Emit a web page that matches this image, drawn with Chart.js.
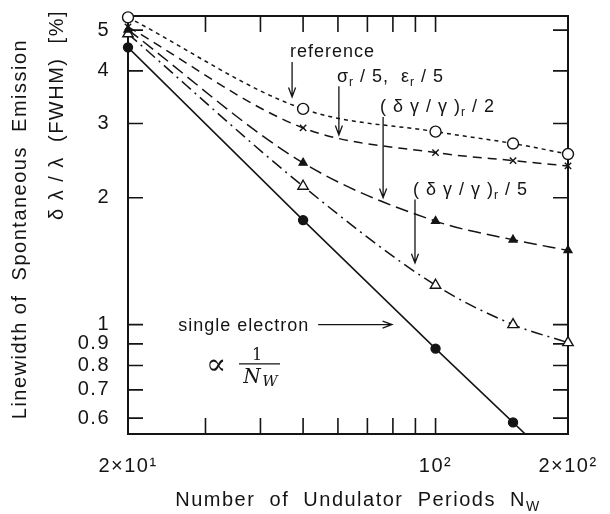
<!DOCTYPE html>
<html><head><meta charset="utf-8">
<script src="https://cdn.jsdelivr.net/npm/chart.js@4.4.0/dist/chart.umd.min.js"></script>
<style>html,body{margin:0;padding:0;background:#fff}#wrap{width:610px;height:514px}</style>
</head><body><div id="wrap"><canvas id="c" width="610" height="514"></canvas></div>
<script>
// ---- data ----
const periods = [20, 50, 100, 150, 200];
const referenceWidth = [5.36, 3.25, 2.87, 2.69, 2.54];
const emittanceOver5 = [5.09, 2.93, 2.56, 2.45, 2.38];
const spreadOver2 = [5.01, 2.42, 1.76, 1.59, 1.50];
const spreadOver5 = [4.90, 2.13, 1.24, 1.00, 0.906];
const singleElectron = [4.55, 1.77, 0.877, 0.586, 0.44];

const yTickValues = [0.6, 0.7, 0.8, 0.9, 1, 2, 3, 4, 5];
const yTickLabels = ['0.6', '0.7', '0.8', '0.9', '1', '2', '3', '4', '5'];
const xTickValues = [20, 100, 200];
const xTickLabels = ['2×10¹', '10²', '2×10²'];
const xMinorTicks = [30, 40, 50, 60, 70, 80, 90, 100];

const FONT = "'Liberation Sans', Arial, sans-serif";
const INK = '#141414';

// annotation anchors in data coordinates [N, value]
const notes = [
  { runs: [['reference']], at: [46.7, 4.32], arrow: [[47.2, 4.20], [47.2, 3.47]] },
  { runs: [['σ'], ['r', 1], [' / 5,  ε'], ['r', 1], [' / 5']], at: [59.7, 3.77], arrow: [[60.3, 3.68], [60.3, 2.82]] },
  { runs: [['( δ γ / γ )'], ['r', 1], [' / 2']], at: [74.8, 3.20], arrow: [[76.0, 3.11], [76.0, 2.00]] },
  { runs: [['( δ γ / γ )'], ['r', 1], [' / 5']], at: [88.9, 2.03], arrow: [[89.8, 1.98], [89.8, 1.40]] },
  { runs: [['single electron']], at: [26.0, 0.966], arrow: [[54.1, 1.0], [79.6, 1.0]] }
];

function pts(arr) { return periods.map((n, i) => ({ x: n, y: arr[i] })); }

function drawRuns(ctx, x, y, runs, size) {
  let cx = x;
  runs.forEach(([t, sub]) => {
    ctx.font = (sub ? Math.round(size * 0.65) : size) + 'px ' + FONT;
    ctx.fillText(t, cx, sub ? y + 4 : y);
    cx += ctx.measureText(t).width;
  });
}

function arrow(ctx, x1, y1, x2, y2) {
  ctx.beginPath();
  ctx.moveTo(x1, y1); ctx.lineTo(x2, y2);
  const a = Math.atan2(y2 - y1, x2 - x1), L = 10, w = 0.36;
  ctx.moveTo(x2 - L * Math.cos(a - w), y2 - L * Math.sin(a - w));
  ctx.lineTo(x2, y2);
  ctx.lineTo(x2 - L * Math.cos(a + w), y2 - L * Math.sin(a + w));
  ctx.stroke();
}

const framePlugin = {
  id: 'frame',
  beforeDraw(chart) {
    chart.ctx.letterSpacing = '1.5px';
  },
  beforeDatasetsDraw(chart) {
    const { ctx, chartArea: a, scales: { x, y } } = chart;
    ctx.save();
    ctx.strokeStyle = INK;
    ctx.lineWidth = 2;
    ctx.strokeRect(a.left, a.top, a.right - a.left, a.bottom - a.top);
    ctx.lineWidth = 1.6;
    ctx.beginPath();
    yTickValues.forEach(v => {
      const py = y.getPixelForValue(v);
      ctx.moveTo(a.left, py); ctx.lineTo(a.left + 15, py);
      ctx.moveTo(a.right, py); ctx.lineTo(a.right - 15, py);
    });
    xMinorTicks.forEach(n => {
      const px = x.getPixelForValue(n);
      ctx.moveTo(px, a.top); ctx.lineTo(px, a.top + 16);
      ctx.moveTo(px, a.bottom); ctx.lineTo(px, a.bottom - 16);
    });
    ctx.stroke();
    ctx.restore();
  },
  afterDraw(chart) {
    const { ctx, chartArea: a, scales: { x, y } } = chart;
    const P = (n, v) => [x.getPixelForValue(n), y.getPixelForValue(v)];
    ctx.save();
    ctx.fillStyle = INK; ctx.strokeStyle = INK; ctx.lineWidth = 1.3;
    ctx.textBaseline = 'alphabetic'; ctx.textAlign = 'left';
    ctx.letterSpacing = '1px';
    notes.forEach(nt => {
      const [tx, ty] = P(nt.at[0], nt.at[1]);
      drawRuns(ctx, tx, ty, nt.runs, 18);
      const [ax1, ay1] = P(nt.arrow[0][0], nt.arrow[0][1]);
      const [ax2, ay2] = P(nt.arrow[1][0], nt.arrow[1][1]);
      arrow(ctx, ax1, ay1, ax2, ay2);
    });
    // proportional-to annotation
    ctx.letterSpacing = '0px';
    const [px0, py0] = P(30.7, 0.785);
    ctx.font = "30px 'DejaVu Serif', serif";
    ctx.fillText('∝', px0 - 4, py0 + 5);
    const [fx, fy] = P(39.7, 0.807);
    ctx.beginPath(); ctx.moveTo(fx - 20, fy); ctx.lineTo(fx + 21, fy); ctx.lineWidth = 1.2; ctx.stroke();
    ctx.textAlign = 'center';
    ctx.font = "16px 'DejaVu Serif', serif";
    ctx.fillText('1', fx - 2, fy - 4);
    ctx.font = "italic 20px 'DejaVu Serif', serif";
    ctx.fillText('N', fx - 7, fy + 19);
    ctx.font = "italic 15px 'DejaVu Serif', serif";
    ctx.fillText('W', fx + 11, fy + 22);

    // y axis title (two lines)
    ctx.letterSpacing = '1.5px';
    ctx.save();
    ctx.translate(20, 229); ctx.rotate(-Math.PI / 2);
    ctx.textAlign = 'center'; ctx.textBaseline = 'middle';
    ctx.font = '20px ' + FONT;
    ctx.fillText('Linewidth of  Spontaneous  Emission', 0, 0);
    ctx.restore();
    ctx.save();
    ctx.translate(57, 115); ctx.rotate(-Math.PI / 2);
    ctx.textAlign = 'center'; ctx.textBaseline = 'middle';
    ctx.font = '20px ' + FONT;
    ctx.fillText('δ λ / λ  (FWHM)  [%]', 0, 0);
    ctx.restore();

    // x axis title with subscript
    ctx.textAlign = 'left'; ctx.textBaseline = 'alphabetic';
    ctx.font = '20px ' + FONT;
    const main = 'Number  of  Undulator  Periods  N';
    const w1 = ctx.measureText(main).width;
    ctx.font = '14px ' + FONT;
    const w2 = ctx.measureText('W').width;
    const sx = (a.left + a.right) / 2 - (w1 + w2) / 2 + 10;
    ctx.font = '20px ' + FONT;
    ctx.fillText(main, sx, 506);
    ctx.font = '14px ' + FONT;
    ctx.fillText('W', sx + w1, 511);
    ctx.restore();
  }
};

const common = { borderColor: INK, borderWidth: 1.5, pointBorderColor: INK, pointBorderWidth: 1.4, fill: false, clip: false };

new Chart(document.getElementById('c'), {
  type: 'line',
  data: {
    datasets: [
      Object.assign({}, common, { label: 'reference', data: pts(referenceWidth), borderDash: [4, 4], tension: 0.4, cubicInterpolationMode: 'monotone', pointStyle: 'circle', pointRadius: 5.5, pointBackgroundColor: '#fff' }),
      Object.assign({}, common, { label: 'σr/5, εr/5', data: pts(emittanceOver5), borderDash: [9, 6], tension: 0.4, cubicInterpolationMode: 'monotone', pointStyle: 'crossRot', pointRadius: 4.5, pointBackgroundColor: INK }),
      Object.assign({}, common, { label: '(δγ/γ)r/2', data: pts(spreadOver2), borderDash: [13, 6], tension: 0.4, cubicInterpolationMode: 'monotone', pointStyle: 'triangle', pointRadius: 4.5, pointBackgroundColor: INK }),
      Object.assign({}, common, { label: '(δγ/γ)r/5', data: pts(spreadOver5), borderDash: [12, 5, 2, 5], tension: 0.4, cubicInterpolationMode: 'monotone', pointStyle: 'triangle', pointRadius: 6, pointBackgroundColor: '#fff' }),
      Object.assign({}, common, { label: 'single electron', data: pts(singleElectron), tension: 0, pointStyle: 'circle', pointRadius: [4.5, 4.5, 4.5, 4.5, 0], pointBackgroundColor: INK, clip: { left: 10, top: 10, right: 10, bottom: 0 } })
    ]
  },
  options: {
    responsive: false, animation: false, devicePixelRatio: 1,
    layout: { padding: { top: 16, right: 42, left: 0, bottom: 0 } },
    plugins: { legend: { display: false }, tooltip: { enabled: false } },
    scales: {
      x: {
        type: 'logarithmic', min: 20, max: 200,
        afterFit: s => { s.height = 80; s.paddingLeft = 0; s.paddingRight = 0; },
        afterBuildTicks: s => { s.ticks = xTickValues.map(v => ({ value: v })); },
        grid: { display: false, drawTicks: false }, border: { display: false },
        ticks: { autoSkip: false, maxRotation: 0, padding: 20, color: INK, font: { family: FONT, size: 20 }, callback: (v, i) => xTickLabels[i] }
      },
      y: {
        type: 'logarithmic', min: 0.55, max: 5.4,
        afterFit: s => { s.width = 128; s.paddingTop = 0; s.paddingBottom = 0; },
        afterBuildTicks: s => { s.ticks = yTickValues.map(v => ({ value: v })); },
        grid: { display: false, drawTicks: false }, border: { display: false },
        ticks: { autoSkip: false, padding: 18, color: INK, font: { family: FONT, size: 20 }, callback: (v, i) => yTickLabels[i] }
      }
    }
  },
  plugins: [framePlugin]
});
</script></body></html>
